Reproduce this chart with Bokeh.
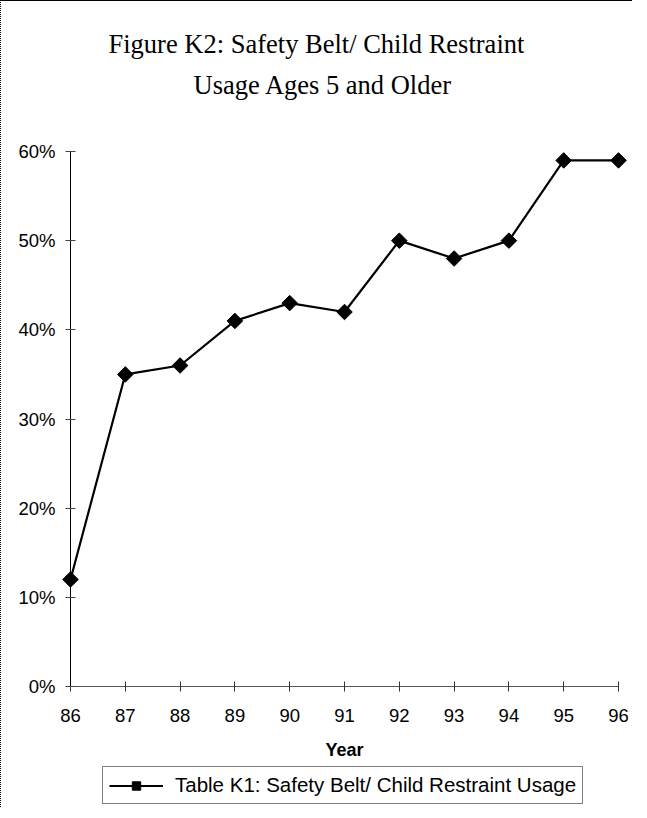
import math
from bokeh.plotting import figure
from bokeh.models import (FixedTicker, NumeralTickFormatter, Legend, LegendItem,
                          CustomJSTickFormatter, Title)
from bokeh.embed import file_html
from bokeh.resources import INLINE

years = [86, 87, 88, 89, 90, 91, 92, 93, 94, 95, 96]
usage = [0.12, 0.35, 0.36, 0.41, 0.43, 0.42, 0.50, 0.48, 0.50, 0.59, 0.59]
y_ticks = [0, 0.1, 0.2, 0.3, 0.4, 0.5, 0.6]
title_lines = ["Usage Ages 5 and Older", "Figure K2: Safety Belt/ Child Restraint"]
x_title = "Year"
series_name = "Table K1: Safety Belt/ Child Restraint Usage"

SANS = "Liberation Sans"
SERIF = "Liberation Serif"

# layout: 54.8 px per year, 891.7 px per unit of share
PX_X = 54.8
PX_Y = 891.7
x_lo, x_hi = years[0] - 57 / PX_X, years[-1] + 10 / PX_X
y_lo, y_hi = y_ticks[0] - 119 / PX_Y, y_ticks[-1] + 49 / PX_Y

p = figure(frame_width=615, frame_height=703, output_backend="svg",
           toolbar_location=None, x_range=(x_lo, x_hi), y_range=(y_lo, y_hi),
           min_border_left=12, min_border_right=4, min_border_top=101,
           min_border_bottom=2)
p.styles = {"border-top": "1px solid black", "border-left": "1px dotted black"}
p.outline_line_color = None
p.xgrid.visible = False
p.ygrid.visible = False
p.background_fill_color = "white"
p.border_fill_color = "white"

offsets = [180, 95]
standoffs = [6, 12]
for t, off, so in zip(title_lines, offsets, standoffs):
    tt = Title(text=t, align="left", text_font=SERIF, text_font_size="26.5px",
               text_font_style="normal", text_color="black", offset=off,
               standoff=so)
    p.add_layout(tt, "above")

r = p.line(years, usage, line_color="black", line_width=2.2)
m = p.scatter(years, usage, marker="square", size=11, angle=math.pi / 4,
              fill_color="black", line_color="black")

p.xaxis.ticker = FixedTicker(ticks=years)
p.xaxis.formatter = CustomJSTickFormatter(code="return tick.toFixed(0);")
p.xaxis.bounds = (years[0], years[-1])
p.xaxis.fixed_location = y_ticks[0]
p.yaxis.ticker = FixedTicker(ticks=y_ticks)
p.yaxis.formatter = NumeralTickFormatter(format="0%")
p.yaxis.bounds = (y_ticks[0], y_ticks[-1])
p.yaxis.fixed_location = years[0]
for ax in (p.xaxis[0], p.yaxis[0]):
    ax.major_tick_in = 5
    ax.major_tick_out = 5
    ax.minor_tick_in = 0
    ax.minor_tick_out = 0
    ax.major_label_text_font = SANS
    ax.major_label_text_font_size = "18.5px"
    ax.major_label_text_color = "black"
    ax.axis_line_width = 1
p.yaxis.axis_line_color = "black"
p.yaxis.major_tick_line_color = "#444444"
p.xaxis.axis_line_color = "#555555"
p.xaxis.major_tick_line_color = "#333333"
p.xaxis.major_label_standoff = 17
p.yaxis.major_label_standoff = 10
p.xaxis.axis_label = x_title
p.xaxis.axis_label_text_font = SANS
p.xaxis.axis_label_text_font_size = "18px"
p.xaxis.axis_label_text_font_style = "bold"
p.xaxis.axis_label_text_color = "black"
p.xaxis.axis_label_standoff = 15

legend = Legend(items=[LegendItem(label=series_name, renderers=[r, m])],
                location=(89, 1), orientation="horizontal",
                label_text_font=SANS, label_text_font_size="20.5px",
                label_text_color="black", border_line_color="black",
                border_line_width=1, glyph_width=54, glyph_height=21,
                label_height=21, padding=6, margin=0, label_standoff=12,
                background_fill_color="white")
p.add_layout(legend, "center")

open("out.html", "w").write(file_html(p, INLINE))
